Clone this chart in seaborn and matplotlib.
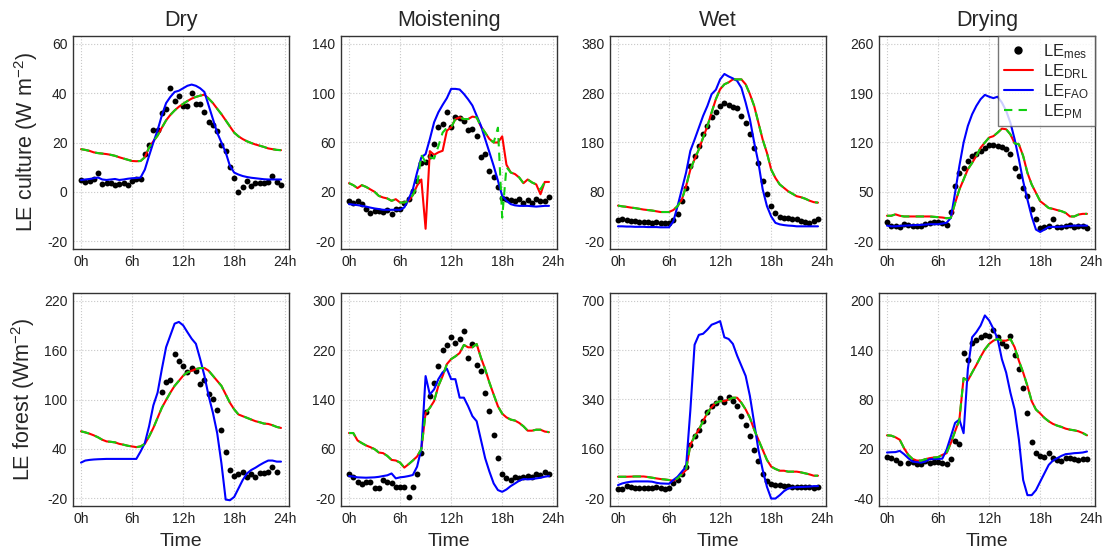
import numpy as np
import pandas as pd
import matplotlib
matplotlib.use("Agg")
import matplotlib.pyplot as plt
from matplotlib.lines import Line2D
import seaborn as sns

nan = float("nan")
hours = [i * 0.5 for i in range(48)]
xtick_vals = [0, 6, 12, 18, 24]
xtick_labels = ["0h", "6h", "12h", "18h", "24h"]
titles = ["Dry", "Moistening", "Wet", "Drying"]
row_labels = ["LE culture (W m$^{-2}$)", "LE forest (Wm$^{-2}$)"]

# ---------------- culture (top row) ----------------
mes_c_dry = [4.6,4.0,4.4,5.0,7.5,3.0,3.7,3.4,2.6,3.3,3.7,2.6,4.4,5.0,5.3,15.3,19.0,25.2,25.2,32.0,33.7,42.0,36.7,39.0,
             34.8,34.8,40.2,35.6,35.6,32.3,28.5,27.0,24.8,19.0,16.6,10.2,5.7,0.0,2.0,4.4,2.3,3.7,3.7,3.4,4.0,6.4,4.0,2.9]
drl_c_dry = [17.3,17.0,16.6,16.0,15.7,15.5,15.3,15.0,14.6,14.0,13.5,13.0,12.5,12.4,12.5,14.0,18.0,20.5,22.8,26.0,29.0,31.2,33.0,34.5,
             35.7,36.8,37.8,38.5,39.0,39.4,37.8,36.0,33.7,31.5,29.0,26.5,24.0,22.5,21.4,20.5,19.8,19.2,18.7,18.2,17.6,17.3,17.0,16.9]
fao_c_dry = [4.8,5.0,5.2,5.5,5.8,5.0,4.8,5.0,5.2,4.8,5.0,5.3,5.5,5.6,5.8,9.0,14.6,20.0,25.0,31.0,36.0,38.5,40.5,41.0,
             42.0,43.0,43.5,43.0,42.0,40.5,35.0,29.5,24.0,20.0,16.0,10.5,7.8,7.0,6.4,6.0,5.7,5.5,5.3,5.1,5.0,5.0,5.0,5.0]
pm_c_dry = drl_c_dry

mes_c_moist = [12.7,11.3,12.7,10.0,5.9,2.7,4.3,4.3,4.0,5.4,2.1,5.9,6.4,11.3,14.0,20.8,29.0,43.3,43.8,49.3,58.8,72.3,75.0,84.5,
               72.8,80.4,79.6,77.7,70.0,71.0,65.5,47.9,50.6,37.0,31.7,24.0,14.6,14.0,13.2,12.7,14.0,11.3,13.2,11.3,14.0,12.7,12.4,15.4]
drl_c_moist = [27,25.4,23,25.4,24,22,20,16.7,15.4,14.6,12.7,14,11.3,11.3,12.7,17.3,25,30,-10,53,50,52,53.3,69.6,
               72.3,79,80.4,79,79,81,80.4,73,68,62.8,60,60,65,42,35.7,34.4,31.6,27,30,27.6,26,18,28,28]
fao_c_moist = [10,9.6,9.2,8.6,8,7.2,6.5,6,5.4,5.4,5.4,5.4,5.4,7.3,14,22,35.7,48,50.6,62.8,76.4,84.5,90.5,96,
               103.5,103.5,103,99.4,95,90,81.8,73.7,62.8,52,41,29,16.7,12.7,10,9,8.6,8.6,8.6,8.3,8,8.3,8.6,8.6]
pm_c_moist = [27,25.4,23,25.4,24,22,20,16.7,15.4,14.6,12.7,14,11.3,11.3,12.7,17.3,25,50,44,48,47,57,68,72,
              72.3,79,80.4,79,79,81,80.4,73,68,62.8,60,72,-1,40,35.7,34.4,31.6,27,30,27.6,26,22,28,28]

mes_c_wet = [22,24,22,21,20,19,18,19,16,18,17,16,16,22,34,61,88,132,153,173,197,214,232,241,
             254,260,256,253,249,233,220,197,169,139,102,76,51,36,29,26,27,24,24,20,19,17,20,24]
drl_c_wet = [52,50.5,49.5,48,47,45.5,44,43,42,40.5,39,39,39,43,51,64,91.5,125,146,166,190,213,241,268,
             288,298,302,308,308,308,298,278,254,220,186,159,125,108,95,88,81,76,71,69,66,62,59,58]
fao_c_wet = [10,10,9.5,9.5,9,9,9,8.5,8.5,8.5,8,8,8,20,51,85,119,163,186,210,234,254,278,287,
             308,319,314,310,305,291,261,227,180,139,85,51,30,17,14,12.5,11.5,11,10,10,10,10,10,10]
pm_c_wet = drl_c_wet

mes_c_drying = [7.3,1,1,0,4.4,3,2,1,2,5,6,7,7,6,3.5,21.5,58,77,84,93.7,100.8,103,108,112.6,
                116,116,115,113.6,111,103,84,72,55.7,43.8,25,12,-2,0,1,11.6,0,0,1,3.5,0.2,1,1,-1]
drl_c_drying = [16,16,18,16,15,15,15,15,15,15,15,14.5,14,13.5,12.5,13,34,53,67.5,82,91,101,112.6,120,
                127,129,134,139.7,138.8,131.6,118.8,117.4,100.8,77,60.4,48.6,36.7,32,27,25.8,24,22.5,20,15,15,17.7,18.7,18.7]
fao_c_drying = [2,1,1,1.5,2,2.2,2.5,2.8,3,3.5,4,4,4,5,6,13,48.6,86.5,120,143.5,160,172,181.5,187.6,
                185,183,185,176.7,165,148,124.5,96,65,39,15,-3.6,-7,-3.6,0,0.2,0.2,0.5,1,1.5,2,2,2,2]
pm_c_drying = drl_c_drying

# ---------------- forest (bottom row) ----------------
mes_f_dry = [nan]*19 + [108.8,121.9,123.5,155.9,147.3,140.3,133,138.3,135,118.6,123.5,106.7,101,87,63.3,36.3,14.2,
                        6.8,9.3,12.2,6,9.3,6,10.1,10.9,12.2,17.5,11.7,nan]
drl_f_dry = [61.3,60,58.4,56.4,54,51,49,48.5,47.8,46,45,43.7,42.9,42,42.9,46,55,65.4,77.7,90,99.4,108.4,116.6,122.7,
             128.9,133,135,137,138.3,138.3,135,128.9,122.7,116.6,106.3,96,88,81.8,79.7,77.7,75.6,73.6,72.3,70.7,70.3,68.7,66.6,65.4]
fao_f_dry = [23.2,25.7,26.5,27,27.3,27.5,27.7,27.7,27.7,27.7,27.7,27.7,27.7,27.7,36.7,47,67.4,92.8,108.4,137,163.7,178,192.3,194.4,
             190.3,182,174,167.8,149.3,128.9,104.3,83.8,59.2,22.4,-21.8,-22.6,-18.6,-8.3,2,10,14.2,17,20.3,23.2,25.7,25.7,24.4,24.4]
pm_f_dry = drl_f_dry

mes_f_moist = [19,13.6,6,2.2,6,6,-3.8,-3.8,8.7,6.6,5,-1.6,-1.6,-1.6,-18,-2.2,19,53,120,145.6,167.4,193.6,220.8,228.5,
               241,231.8,238.3,251.4,207,230,195.8,186.5,150,121.6,82.4,44.7,19,12.6,9.3,13.7,12,13.7,16.4,14.7,19,17.5,23,19]
drl_f_moist = [85.6,85.6,73.6,69.3,65.5,62.7,59.5,54,53,48.5,42,41,37.6,29.5,35,41,47.5,59.5,118,126.5,137.4,162,178,197.4,
               205.6,210,215.4,228.5,224.7,224.7,230,208,189,167.4,148,129,117,111,107.4,105.8,102,96.5,89.4,89.4,91,91,88,87]
fao_f_moist = [15.8,15,13.7,13.4,13.1,13.4,13.7,14.5,15.8,17,20,12,13.7,14.5,15.8,17.5,31,60,178,148,156.5,173,184,190,
               173,173,143,143,129,113,104.7,74.7,44.7,23,3.8,-7,-9.8,-6,-0.5,3.8,8.2,11,10.4,11,12,13,14.7,15.8]
pm_f_moist = drl_f_moist

mes_f_wet = [14,14,24,19,18,15.5,15.5,15.5,16.5,21.3,16.5,14,16.5,33.6,46,68,95,174.7,208,230,263,294,316,328,
             344,331.8,347.7,333,316,279,248,205.4,156.3,116,68,43.4,31.2,27.5,27.5,24,24,21.3,19,19,21.3,19,15.5,19]
drl_f_wet = [58,58,58,58.5,59,59,59,57,54.5,52,49.6,48,46,43.4,52,66.7,82.7,174.7,205.4,230,260.6,291.3,312,328,
             334,334,340,346.5,346.5,328,303.6,272.9,230,193,156.3,119.5,95,86.4,80,80,76.6,76.6,76.6,74,70.4,66.7,61.8,61.8]
fao_f_wet = [27.5,33.6,37.3,39.8,41,41,41,41,40,36,33.6,33,32.4,46,58,76.6,95,300,540,576,580,595,613,619,
             626,567,561,543,500,463,426,352.6,254.5,156,83,21.3,-21.6,-21.6,-9.3,5.4,15,19,20,20.5,21.3,22,23.8,23.8]
pm_f_wet = drl_f_wet

mes_f_drying = [9.8,8.6,6.5,3.2,nan,3.2,4.5,1.6,1.6,5.7,3.2,3.6,3.6,3.2,1.6,7.3,29,26,136,128,148.8,152.9,155.7,158.6,
                157,164,155.7,148.8,144.7,157.8,134,116.9,93.6,63,27.8,15.5,11.4,10.6,14.7,8.6,6.5,5.7,8.6,8.6,7.3,6.5,7.3,7.3]
drl_f_drying = [36.4,36,34,31,20.8,12.6,7.7,5.7,5.7,7.3,8.6,9.4,9.8,12.6,14.7,27,41.3,55,106,103,112.8,122,132,141,
                147.6,151.6,153.7,151.6,151.6,153.7,143.5,127,112.8,96.5,78,67.8,63,57.6,53.5,50.3,48.2,46.6,44.5,43.3,42.5,41.3,39.2,36.4]
fao_f_drying = [15.5,15.8,16,17.5,13.5,8.6,4.5,3.8,3.2,4.5,7.3,7.5,7.7,8,18.8,35,51.5,55.6,39,117,155.7,162,170,182.3,
                176.2,166,153.7,129,112.8,88.3,67.8,31,-18,-36.4,-36.4,-30.3,-20,-9.8,0.4,5.7,8.6,11.4,13.5,14,14.7,15,15.5,16.7]
pm_f_drying = drl_f_drying

yt_c = [[-20,0,20,40,60], [-20,20,60,100,140], [-20,80,180,280,380], [-20,50,120,190,260]]
yt_f = [[-20,40,100,160,220], [-20,60,140,220,300], [-20,160,340,520,700], [-40,20,80,140,200]]

series = [
    [(mes_c_dry, drl_c_dry, fao_c_dry, pm_c_dry), (mes_c_moist, drl_c_moist, fao_c_moist, pm_c_moist),
     (mes_c_wet, drl_c_wet, fao_c_wet, pm_c_wet), (mes_c_drying, drl_c_drying, fao_c_drying, pm_c_drying)],
    [(mes_f_dry, drl_f_dry, fao_f_dry, pm_f_dry), (mes_f_moist, drl_f_moist, fao_f_moist, pm_f_moist),
     (mes_f_wet, drl_f_wet, fao_f_wet, pm_f_wet), (mes_f_drying, drl_f_drying, fao_f_drying, pm_f_drying)],
]
yticks = [yt_c, yt_f]

# ---------------- style ----------------
sns.set_theme(style="white")
plt.rcParams['font.family'] = ['Liberation Sans', 'DejaVu Sans']
plt.rcParams['mathtext.fontset'] = 'custom'
plt.rcParams['mathtext.rm'] = 'Liberation Sans'
plt.rcParams['mathtext.it'] = 'Liberation Sans:italic'
plt.rcParams['mathtext.default'] = 'regular'

C_RED, C_BLUE, C_GREEN = "#FF0000", "#0000FF", "#10D010"
W, H = 1114, 554
fig = plt.figure(figsize=(W / 100, H / 100), dpi=100)
lefts = [73, 341, 610, 879]
tops = [36, 293]
aw, ah = 216, 213

for r in range(2):
    for c in range(4):
        ax = fig.add_axes([lefts[c] / W, 1 - (tops[r] + ah) / H, aw / W, ah / H])
        mes, drl, fao, pm = series[r][c]
        df = pd.DataFrame({"h": hours, "mes": mes, "drl": drl, "fao": fao, "pm": pm})
        sns.scatterplot(data=df, x="h", y="mes", color="black", s=18, linewidth=0, ax=ax, zorder=3)
        sns.lineplot(data=df, x="h", y="drl", color=C_RED, lw=1.5, estimator=None, sort=False, ax=ax, zorder=4)
        sns.lineplot(data=df, x="h", y="fao", color=C_BLUE, lw=1.5, estimator=None, sort=False, ax=ax, zorder=4)
        sns.lineplot(data=df, x="h", y="pm", color=C_GREEN, lw=1.5, ls=(0, (4, 3)), estimator=None, sort=False,
                     ax=ax, zorder=5)
        yt = yticks[r][c]
        rng = yt[-1] - yt[0]
        ax.set_ylim(yt[0] - 0.04 * rng, yt[-1] + 0.04 * rng)
        ax.set_xlim(-0.94, 24.44)
        ax.set_yticks(yt)
        ax.set_yticklabels([str(v) for v in yt])
        ax.set_xticks(xtick_vals)
        ax.set_xticklabels(xtick_labels)
        ax.tick_params(length=0, labelsize=10, colors="#222222", pad=4)
        ax.grid(True, ls=":", color="#c8c8c8", lw=0.8)
        ax.set_axisbelow(True)
        for s in ax.spines.values():
            s.set_color("#333333")
            s.set_linewidth(1.0)
        ax.set_ylabel(row_labels[r] if c == 0 else "", fontsize=15.5, labelpad=5)
        ax.set_xlabel("Time" if r == 1 else "", fontsize=14, labelpad=5)
        if r == 0:
            ax.set_title(titles[c], fontsize=15.5, pad=7)
        if r == 0 and c == 3:
            handles = [
                Line2D([], [], ls="none", marker="o", color="black", markersize=5),
                Line2D([], [], color=C_RED, lw=1.5),
                Line2D([], [], color=C_BLUE, lw=1.5),
                Line2D([], [], color=C_GREEN, lw=1.5, ls=(0, (4, 3))),
            ]
            labels = [r"LE$_{\mathrm{mes}}$", r"LE$_{\mathrm{DRL}}$", r"LE$_{\mathrm{FAO}}$", r"LE$_{\mathrm{PM}}$"]
            leg = ax.legend(handles, labels, loc="upper right", fontsize=12, frameon=True, fancybox=False,
                            borderaxespad=0, handlelength=1.7, handletextpad=0.65, labelspacing=0.08,
                            borderpad=0.35)
            frame = leg.get_frame()
            frame.set_facecolor((1, 1, 1, 0))
            frame.set_edgecolor("#555555")
            frame.set_linewidth(1.0)
            leg.set_zorder(10)

fig.savefig("out.png", dpi=100)
